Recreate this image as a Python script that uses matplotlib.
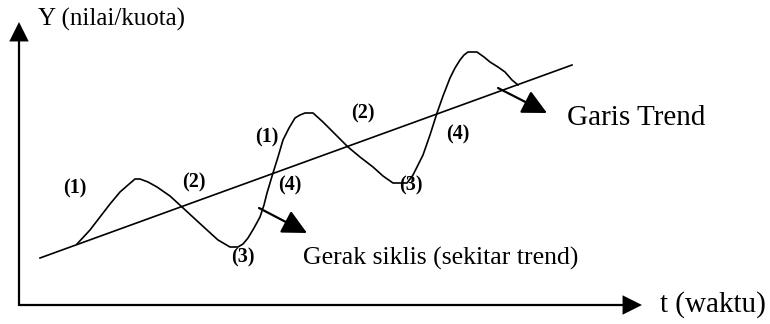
import matplotlib
matplotlib.use("Agg")
import matplotlib.pyplot as plt

# canvas in pixel units (y grows downward)
W, H = 770, 324

# axes of the sketch
origin = (19, 305)
y_tip = (19, 22)
x_tip = (642, 305)

# trend line end points
trend_x = [40, 572]
trend_y = [258, 65]

# cyclical movement (hand drawn curve)
wave_x = [77, 90, 100, 110, 120, 128, 135, 140, 148, 157, 170, 182, 195, 207, 218, 230, 238,
          243, 248, 254, 260, 264, 267, 273, 278, 283, 289, 295, 300, 305, 313, 323, 335,
          348, 360, 373, 383, 393, 407, 413, 418, 423, 430, 437, 443, 450, 455, 460, 464,
          468, 477, 484, 490, 498, 505, 512, 518]
wave_y = [244, 230, 217, 204, 192, 185, 179, 179, 182, 187, 196, 207, 219, 230, 240, 247, 247,
          244, 238, 228, 217, 205, 193, 173, 157, 140, 128, 118, 115, 113, 113, 122, 134,
          147, 157, 167, 176, 183, 183, 175, 165, 155, 135, 113, 96, 78, 68, 60, 55,
          52, 52, 57, 62, 67, 72, 80, 85]

# phase labels
phase_text = ["(1)", "(2)", "(3)", "(4)", "(1)", "(2)", "(3)", "(4)"]
phase_x = [75, 194, 243, 290, 267, 363, 411, 458]
phase_y = [188, 182, 257, 185, 137, 113, 185, 134]

# pointer arrows (start, tip)
pointers = [((498, 88), (547, 113)), ((259, 208), (307, 233))]

fig = plt.figure(figsize=(W / 100, H / 100), dpi=100)
ax = fig.add_axes([0, 0, 1, 1])
ax.set_xlim(0, W)
ax.set_ylim(H, 0)
ax.axis("off")

serif = ["Liberation Serif", "DejaVu Serif"]

# axes with arrows
ax.plot([origin[0], x_tip[0] - 12], [origin[1], origin[1]], color="black", lw=1.6,
        solid_capstyle="butt")
ax.plot([origin[0], origin[0]], [origin[1] + 1, y_tip[1] + 12], color="black", lw=1.6,
        solid_capstyle="butt")
for tip in (x_tip, y_tip):
    ax.annotate("", xy=tip, xytext=origin,
                arrowprops=dict(arrowstyle="-|>,head_length=1.0,head_width=0.5",
                                mutation_scale=14, color="black", lw=0, shrinkA=0, shrinkB=0))

ax.plot(trend_x, trend_y, color="black", lw=1.2)
ax.plot(wave_x, wave_y, color="black", lw=1.2)

for (s, t) in pointers:
    ax.annotate("", xy=t, xytext=s,
                arrowprops=dict(arrowstyle="-|>,head_length=1.0,head_width=0.5",
                                mutation_scale=15, color="black", lw=1.6,
                                shrinkA=0, shrinkB=0))

for txt, px, py in zip(phase_text, phase_x, phase_y):
    ax.text(px, py, txt, ha="center", va="center", fontsize=14.5,
            fontweight="bold", family=serif)

ax.text(38, 19, "Y (nilai/kuota)", ha="left", va="center", fontsize=18, family=serif)
ax.text(567, 118, "Garis Trend", ha="left", va="center", fontsize=21, family=serif)
ax.text(303, 258, "Gerak siklis (sekitar trend)", ha="left", va="center", fontsize=18.5,
        family=serif)
ax.text(660, 305, "t (waktu)", ha="left", va="center", fontsize=21, family=serif)

fig.savefig("out.png", dpi=100, facecolor="white")
